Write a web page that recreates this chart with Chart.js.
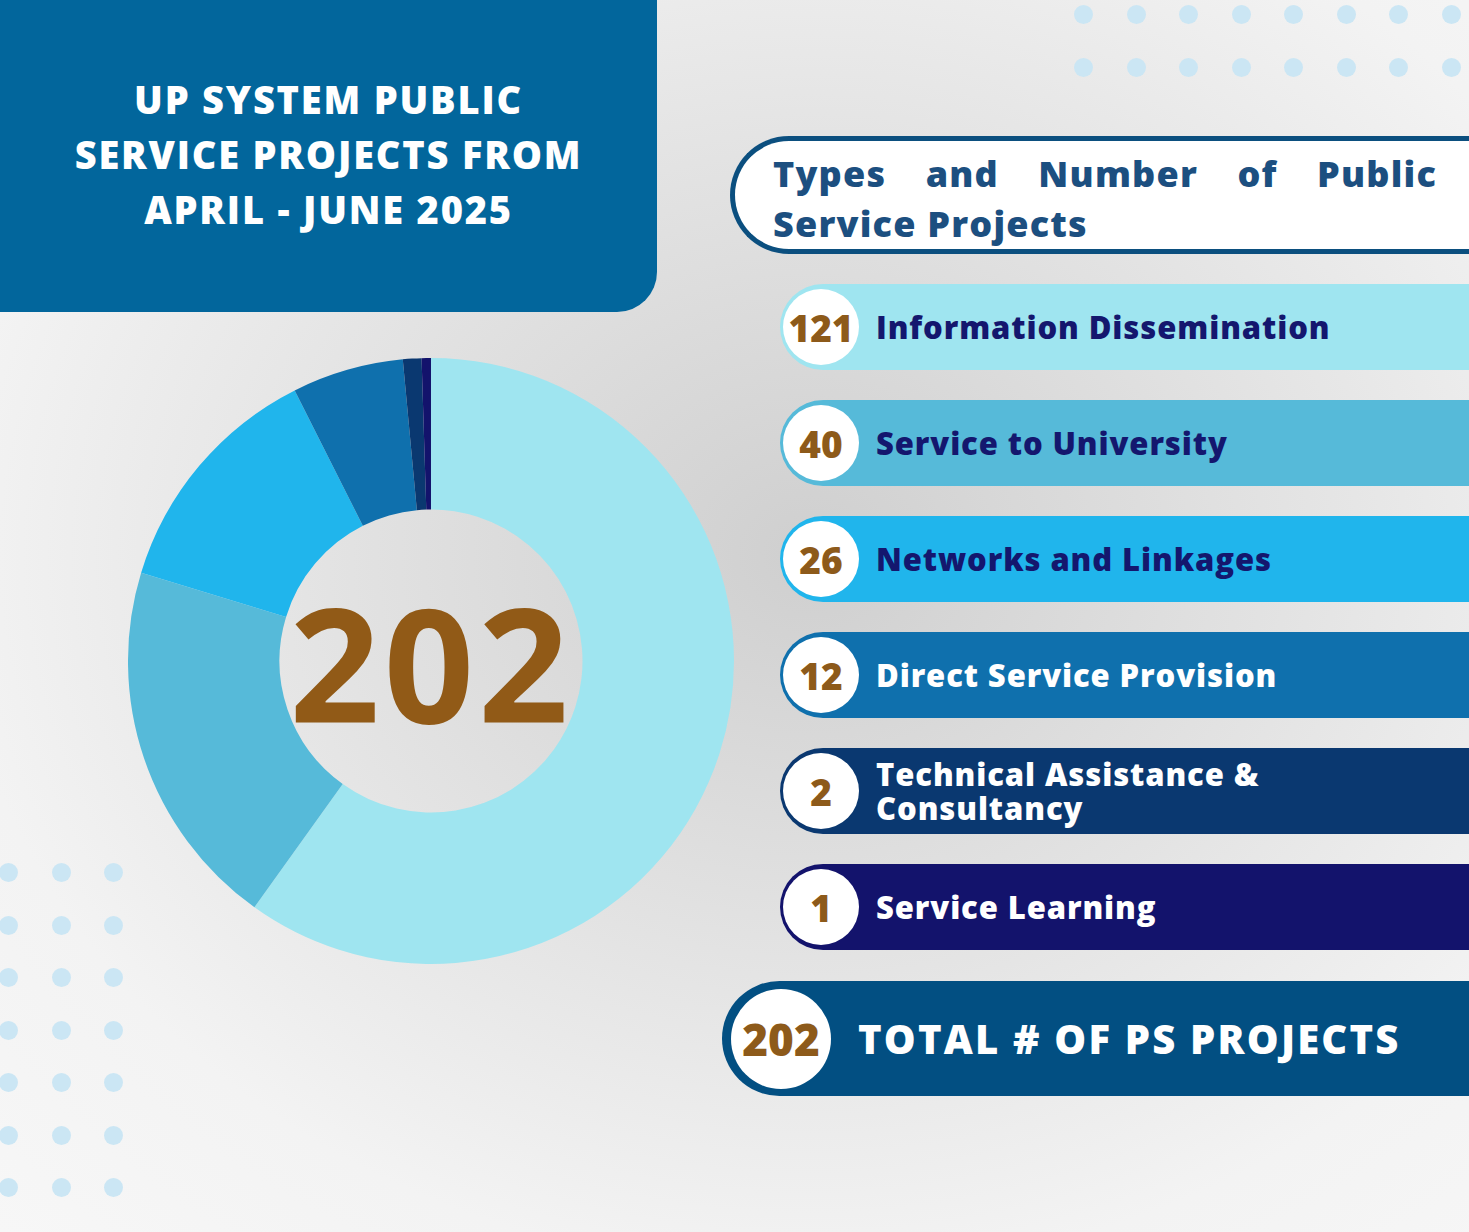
<!DOCTYPE html>
<html><head><meta charset="utf-8">
<script src="https://cdn.jsdelivr.net/npm/chart.js@4"></script>
<style>
html,body{margin:0;padding:0;}
body{width:1469px;height:1232px;position:relative;overflow:hidden;font-family:"Open Sans","Noto Sans",sans-serif;
background:radial-gradient(ellipse at 55% 45%,#cfcfcf 0%,#e2e2e2 40%,#f3f3f3 75%,#f7f7f7 100%);}
.title{position:absolute;left:0;top:0;width:657px;height:312px;background:#02669c;border-bottom-right-radius:40px;color:#fff;
font-weight:800;font-size:38px;line-height:55px;text-align:center;box-sizing:border-box;padding-top:72px;letter-spacing:1.8px}
.dot{position:absolute;width:19px;height:19px;border-radius:50%;background:#cbe6f4}
.head{position:absolute;left:730px;top:136px;width:739px;height:118px;border:5px solid #0b4f7f;border-right:none;border-radius:60px 0 0 60px;background:#fff;box-sizing:border-box;
color:#1c4f80;font-weight:800;font-size:36px;line-height:50px;padding:8px 32px 0 38px;text-align:justify;text-align-last:left;letter-spacing:1.2px}
.row{position:absolute;left:780px;width:700px;height:86px;border-radius:43px 0 0 43px;display:flex;align-items:center}
.circ{width:76px;height:76px;border-radius:50%;background:#fff;margin-left:3px;display:flex;align-items:center;justify-content:center;color:#8d5a1a;font-weight:800;font-size:37px;flex:none}
.lab{margin-left:17px;font-weight:800;font-size:31px;line-height:34px;letter-spacing:0.9px}
.total{position:absolute;left:722px;top:981px;width:760px;height:115px;background:#024f82;border-radius:58px 0 0 58px;display:flex;align-items:center}
.total .circ{width:100px;height:100px;margin-left:9px;font-size:44px}
.total .lab{color:#fff;font-size:40px;margin-left:27px;letter-spacing:2.2px}
#wrap{position:absolute;left:128px;top:358px;width:606px;height:606px}
#center{position:absolute;left:128px;top:358px;width:606px;height:606px;display:flex;align-items:center;justify-content:center;color:#915a17;font-weight:700;font-size:158px;letter-spacing:4px;pointer-events:none}
</style></head><body>
<div class="title">UP SYSTEM PUBLIC<br>SERVICE PROJECTS FROM<br>APRIL - JUNE 2025</div>
<div id="dots"></div>
<div class="head">Types and Number of Public Service Projects</div>
<div id="rows"></div>
<div class="total"><div class="circ">202</div><div class="lab">TOTAL # OF PS PROJECTS</div></div>
<div id="wrap"><canvas id="c" width="606" height="606"></canvas></div>
<div id="center">202</div>
<script>
const categories=["Information Dissemination","Service to University","Networks and Linkages","Direct Service Provision","Technical Assistance & Consultancy","Service Learning"];
const values=[121,40,26,12,2,1];
const colors=["#9fe5f0","#56bad9","#20b5ec","#0f70ad","#0a3870","#13136c"];
const labelColors=["#14176e","#14176e","#14176e","#ffffff","#ffffff","#ffffff"];
const legendLines=["Information Dissemination","Service to University","Networks and Linkages","Direct Service Provision","Technical Assistance &<br>Consultancy","Service Learning"];

const rows=document.getElementById('rows');
categories.forEach((c,i)=>{
  const r=document.createElement('div');r.className='row';r.style.top=(284+i*116)+'px';r.style.background=colors[i];
  r.innerHTML='<div class="circ">'+values[i]+'</div><div class="lab" style="color:'+labelColors[i]+'">'+legendLines[i]+'</div>';
  rows.appendChild(r);
});
const dots=document.getElementById('dots');
function dot(x,y){const d=document.createElement('div');d.className='dot';d.style.left=(x-9)+'px';d.style.top=(y-9)+'px';dots.appendChild(d);}
for(let i=0;i<8;i++){dot(1083+i*52.5,14);dot(1083+i*52.5,67);}
for(let j=0;j<7;j++)for(let i=0;i<3;i++)dot(8+i*52.5,872+j*52.5);

new Chart(document.getElementById('c'),{type:'doughnut',
 data:{labels:categories,datasets:[{data:values,backgroundColor:colors,borderWidth:0}]},
 options:{responsive:false,cutout:'50%',animation:false,plugins:{legend:{display:false},tooltip:{enabled:false}},layout:{padding:0}}});
</script>
</body></html>
